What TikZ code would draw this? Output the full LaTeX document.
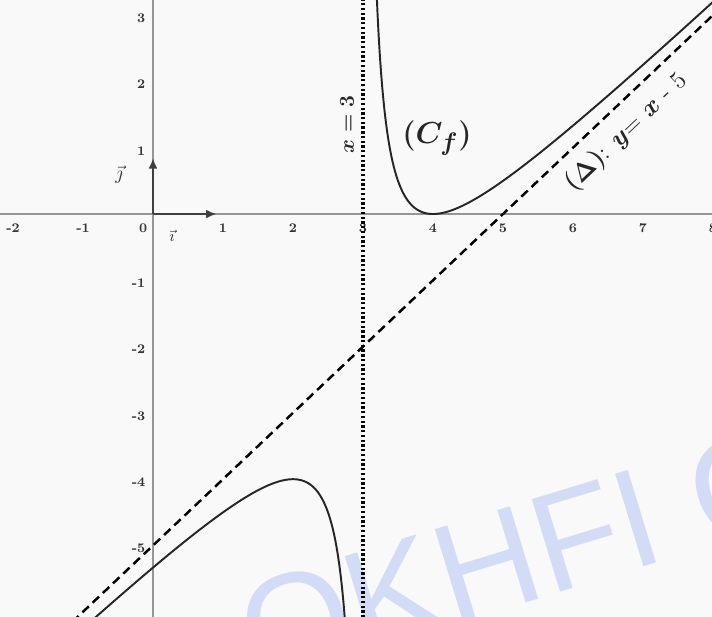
\documentclass[tikz,border=0pt]{standalone}
\usepackage{fontspec}
\newfontfamily\wmfont{Liberation Sans}
\usetikzlibrary{arrows.meta}
\definecolor{bgc}{RGB}{249,249,249}
\definecolor{axc}{RGB}{150,150,150}
\definecolor{wmc}{RGB}{210,220,246}
\tikzset{
  axisline/.style={draw=axc, line width=0.6pt},
  curveline/.style={draw=black!85, line width=1.1pt},
  obliq/.style={draw=black, line width=1.4pt, dash pattern=on 5pt off 3pt},
  vertasym/.style={draw=black, line width=1.8pt, dash pattern=on 1.3pt off 1.4pt},
  ticklab/.style={font=\fontsize{7.5}{9}\selectfont\bfseries, inner sep=1pt, text=black!80},
  unitvec/.style={draw=black!75, line width=1.6pt, -{Latex[length=6pt,width=5pt]}},
  biglab/.style={inner sep=0pt, text=black!85}
}
\begin{document}
\begin{tikzpicture}[x=1.4cm,y=1.326cm]
\useasboundingbox (-2.186,-6.078) rectangle (7.986,3.228);
\fill[bgc] (-2.186,-6.078) rectangle (7.986,3.228);
\clip (-2.186,-6.078) rectangle (7.986,3.228);
% watermark
\node[text=wmc, font=\wmfont\fontsize{80}{90}\selectfont, rotate=17, anchor=base west, inner sep=0pt] (wm) at (1.5,-7.1) {OKHFI C};
% axes
\coordinate (xl) at (-2.3,0); \coordinate (xr) at (8.1,0);
\coordinate (yb) at (0,-6.2); \coordinate (yt) at (0,3.3);
\draw[axisline] (xl) -- (xr);
\draw[axisline] (yb) -- (yt);
% tick labels
\foreach \k in {-2,-1,1,2,3,4,5,6,7,8}
  \node[ticklab] (xt\k) at (\k,-0.21) {\k};
\node[ticklab] (xt0) at (-0.14,-0.21) {0};
\foreach \k in {-5,-4,-3,-2,-1,1,2,3}
  \node[ticklab, anchor=east] (yt\k) at (-0.08,\k-0.045) {\k};
% unit vectors
\coordinate (O) at (0,0);
\coordinate (ie) at (0.91,0);
\coordinate (je) at (0,0.845);
\draw[unitvec] (O) -- (ie);
\draw[unitvec] (O) -- (je);
\node[font=\fontsize{9}{11}\selectfont, text=black!80] (ilab) at (0.27,-0.33) {$\vec{\imath}$};
\node[font=\fontsize{11}{13}\selectfont, text=black!80] (jlab) at (-0.486,0.59) {$\vec{\jmath}$};
% asymptotes
\coordinate (da) at (-1.3,-6.3); \coordinate (db) at (8.4,3.4);
\draw[obliq] (da) -- (db);
\coordinate (va) at (3,-6.3); \coordinate (vb) at (3,3.4);
\draw[vertasym] (va) -- (vb);
% curve
\draw[curveline] plot[domain=3.19:8.2, samples=300, smooth] (\x,{\x-5+1/(\x-3)});
\draw[curveline] plot[domain=-1.2:2.76, samples=300, smooth] (\x,{\x-5+1/(\x-3)});
% labels
\node[biglab, rotate=90, font=\fontsize{12}{14}\selectfont\boldmath] (xeq) at (2.771,1.35) {$x=3$};
\node[biglab, font=\fontsize{19}{22}\selectfont\boldmath] (cf) at (4.057,1.146) {$(C_f)$};
\node[biglab, rotate=43.45, font=\fontsize{14}{16}\selectfont\boldmath] (dl) at (6.76,1.23) {$(\Delta)$: $y$= $x$ - 5};
\end{tikzpicture}
\end{document}
